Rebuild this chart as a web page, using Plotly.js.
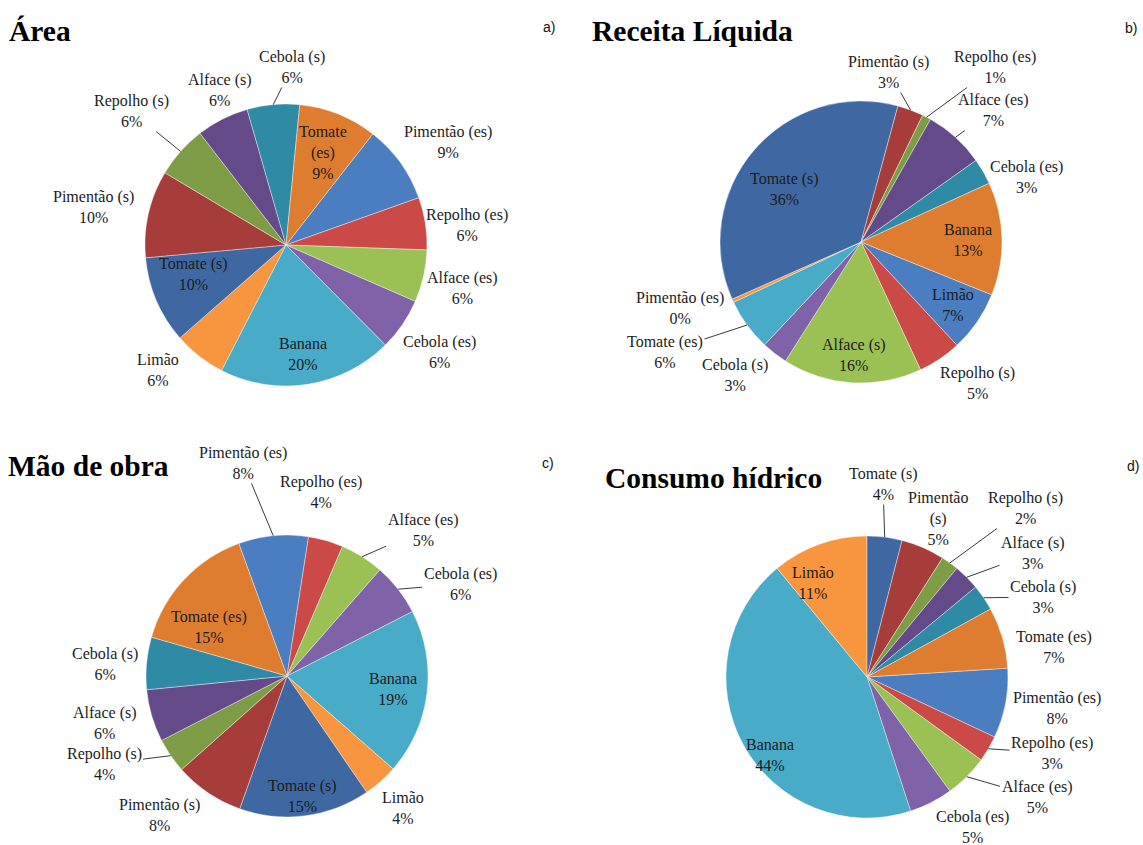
<!DOCTYPE html>
<html>
<head>
<meta charset="utf-8">
<script src="https://cdn.plot.ly/plotly-3.0.1.min.js"></script>
<style>html,body{margin:0;padding:0;background:#fff;}#chart{width:1143px;height:845px;}</style>
</head>
<body>
<div id="chart"></div>
<script>
// ---- DATA ----
const catsArea = ['Pimentão (es)', 'Repolho (es)', 'Alface (es)', 'Cebola (es)', 'Banana', 'Limão', 'Tomate (s)', 'Pimentão (s)', 'Repolho (s)', 'Alface (s)', 'Cebola (s)', 'Tomate (es)'];
const valsArea = [9, 6, 6, 6, 20, 6, 10, 10, 6, 6, 6, 9];

const catsReceita = ['Limão', 'Repolho (s)', 'Alface (s)', 'Cebola (s)', 'Tomate (es)', 'Pimentão (es)', 'Tomate (s)', 'Pimentão (s)', 'Repolho (es)', 'Alface (es)', 'Cebola (es)', 'Banana'];
const valsReceita = [7, 5, 16, 3, 6, 0.4, 36, 3, 1, 7, 3, 13];

const catsMao = ['Pimentão (es)', 'Repolho (es)', 'Alface (es)', 'Cebola (es)', 'Banana', 'Limão', 'Tomate (s)', 'Pimentão (s)', 'Repolho (s)', 'Alface (s)', 'Cebola (s)', 'Tomate (es)'];
const valsMao = [8, 4, 5, 6, 19, 4, 15, 8, 4, 6, 6, 15];

const catsConsumo = ['Pimentão (es)', 'Repolho (es)', 'Alface (es)', 'Cebola (es)', 'Banana', 'Limão', 'Tomate (s)', 'Pimentão (s)', 'Repolho (s)', 'Alface (s)', 'Cebola (s)', 'Tomate (es)'];
const valsConsumo = [8, 3, 5, 5, 44, 11, 4, 5, 2, 3, 3, 7];

const titles = ['Área', 'Receita Líquida', 'Mão de obra', 'Consumo hídrico'];
const panelTags = ['a)', 'b)', 'c)', 'd)'];

// ---- STYLE / LAYOUT ----
const palette = ['#4A7EC0', '#CB4A47', '#9BC155', '#7F62A8', '#48ABC8', '#F7963F',
                 '#3F68A3', '#A63D3A', '#7E9C45', '#654A8A', '#2F8AA5', '#DE7D30'];
const W = 1143, H = 845, R = 141;
const serif = '"Liberation Serif", "Times New Roman", serif';
const FS = 16;
const annotations = [];

// label placement (layout only): inside labels -> [radial fraction, angle offset deg];
// outside labels -> [x, y, leaderLine]
const placeArea = {
  inside: {'Tomate (es)': [0.71, 0], 'Tomate (s)': [0.69, 6], 'Banana': [0.78, 0]},
  outside: {'Cebola (s)': [292, 67, 1], 'Alface (s)': [220, 90, 0], 'Repolho (s)': [131, 111, 1],
            'Pimentão (s)': [93, 207, 0], 'Limão': [158, 370, 0], 'Pimentão (es)': [448, 142, 0],
            'Repolho (es)': [467, 225, 0], 'Alface (es)': [462, 288, 0], 'Cebola (es)': [439, 352, 0]},
  wrap: {'Tomate (es)': 'Tomate<br>(es)'}
};
const placeReceita = {
  inside: {'Tomate (s)': [0.66, -6], 'Banana': [0.76, 0], 'Limão': [0.79, 0], 'Alface (s)': [0.8, 0]},
  outside: {'Pimentão (s)': [889, 72, 1], 'Repolho (es)': [995, 67, 1], 'Alface (es)': [993, 110, 1],
            'Cebola (es)': [1026, 177, 0], 'Repolho (s)': [977, 383, 0], 'Cebola (s)': [735, 375, 0],
            'Tomate (es)': [665, 352, 1], 'Pimentão (es)': [680, 308, 0]},
  wrap: {}
};
const placeMao = {
  inside: {'Tomate (es)': [0.65, -11], 'Banana': [0.76, 0], 'Tomate (s)': [0.86, 0]},
  outside: {'Pimentão (es)': [243, 463, 1], 'Repolho (es)': [321, 492, 0], 'Alface (es)': [423, 530, 1],
            'Cebola (es)': [460, 584, 1], 'Cebola (s)': [105, 664, 0], 'Alface (s)': [105, 723, 0],
            'Repolho (s)': [104, 764, 1], 'Pimentão (s)': [159, 815, 0], 'Limão': [403, 808, 0]},
  wrap: {}
};
const placeConsumo = {
  inside: {'Limão': [0.77, -10], 'Banana': [0.88, -10]},
  outside: {'Tomate (s)': [883, 484, 1], 'Pimentão (s)': [938, 518, 0], 'Repolho (s)': [1025, 508, 1],
            'Alface (s)': [1033, 553, 1], 'Cebola (s)': [1043, 597, 1], 'Tomate (es)': [1054, 647, 0],
            'Pimentão (es)': [1057, 708, 0], 'Repolho (es)': [1052, 753, 1], 'Alface (es)': [1037, 797, 1],
            'Cebola (es)': [972, 827, 0]},
  wrap: {'Pimentão (s)': 'Pimentão<br>(s)'}
};

function pieTrace(cats, vals, cx, cy, rot, place) {
  const total = vals.reduce((a, b) => a + b, 0);
  let cum = 0;
  cats.forEach((c, i) => {
    const midDeg = rot + (cum + vals[i] / 2) / total * 360;
    cum += vals[i];
    const txt = (place.wrap[c] || c) + '<br>' + Math.round(vals[i]) + '%';
    const font = {family: serif, size: FS, color: '#1b1b1b'};
    if (place.inside[c] !== undefined) {
      const [f, off] = place.inside[c];
      const a = (midDeg + off) * Math.PI / 180;
      annotations.push({text: txt, xref: 'paper', yref: 'paper',
        x: (cx + f * R * Math.sin(a)) / W, y: 1 - (cy - f * R * Math.cos(a)) / H,
        xanchor: 'center', yanchor: 'middle', showarrow: false, font: font});
    } else if (place.outside[c]) {
      const [lx, ly, lead] = place.outside[c];
      if (lead) {
        const a = midDeg * Math.PI / 180;
        const tx = cx + R * Math.sin(a), ty = cy - R * Math.cos(a);
        annotations.push({text: txt, xref: 'paper', yref: 'paper',
          x: tx / W, y: 1 - ty / H, ax: lx - tx, ay: ly - ty,
          showarrow: true, arrowhead: 0, arrowwidth: 1, arrowcolor: '#3a3a3a', standoff: 0,
          font: font});
      } else {
        annotations.push({text: txt, xref: 'paper', yref: 'paper',
          x: lx / W, y: 1 - ly / H, xanchor: 'center', yanchor: 'middle', showarrow: false, font: font});
      }
    }
  });
  return {
    type: 'pie', sort: false, direction: 'clockwise', rotation: rot,
    labels: cats, values: vals, textinfo: 'none',
    marker: {colors: palette, line: {color: 'rgba(255,255,255,0.55)', width: 0.7}},
    domain: {x: [(cx - R) / W, (cx + R) / W], y: [(H - cy - R) / H, (H - cy + R) / H]},
    hoverinfo: 'label+value', showlegend: false
  };
}

const data = [
  pieTrace(catsArea, valsArea, 286, 245, 38, placeArea),
  pieTrace(catsReceita, valsReceita, 861, 242, 112, placeReceita),
  pieTrace(catsMao, valsMao, 287, 676, 340, placeMao),
  pieTrace(catsConsumo, valsConsumo, 867, 677, 86.4, placeConsumo)
];

const titlePos = [[7, 31], [590, 31], [6, 466], [603, 478]];
const tagPos = [[549, 27], [1131, 28], [548, 463], [1133, 466]];
titles.forEach((t, i) => {
  annotations.push({text: '<b>' + t + '</b>', xref: 'paper', yref: 'paper',
    x: titlePos[i][0] / W, y: 1 - titlePos[i][1] / H, xanchor: 'left', yanchor: 'middle',
    showarrow: false, font: {family: serif, size: 29.5, color: '#000'}});
  annotations.push({text: panelTags[i], xref: 'paper', yref: 'paper',
    x: tagPos[i][0] / W, y: 1 - tagPos[i][1] / H, xanchor: 'center', yanchor: 'middle',
    showarrow: false, font: {family: '"Liberation Sans", Arial, sans-serif', size: 14, color: '#111'}});
});

const layout = {
  width: W, height: H,
  margin: {l: 0, r: 0, t: 0, b: 0},
  paper_bgcolor: '#fff',
  font: {family: serif, size: FS, color: '#1b1b1b'},
  showlegend: false,
  annotations: annotations
};

Plotly.newPlot('chart', data, layout, {displayModeBar: false, staticPlot: true});
</script>
</body>
</html>
